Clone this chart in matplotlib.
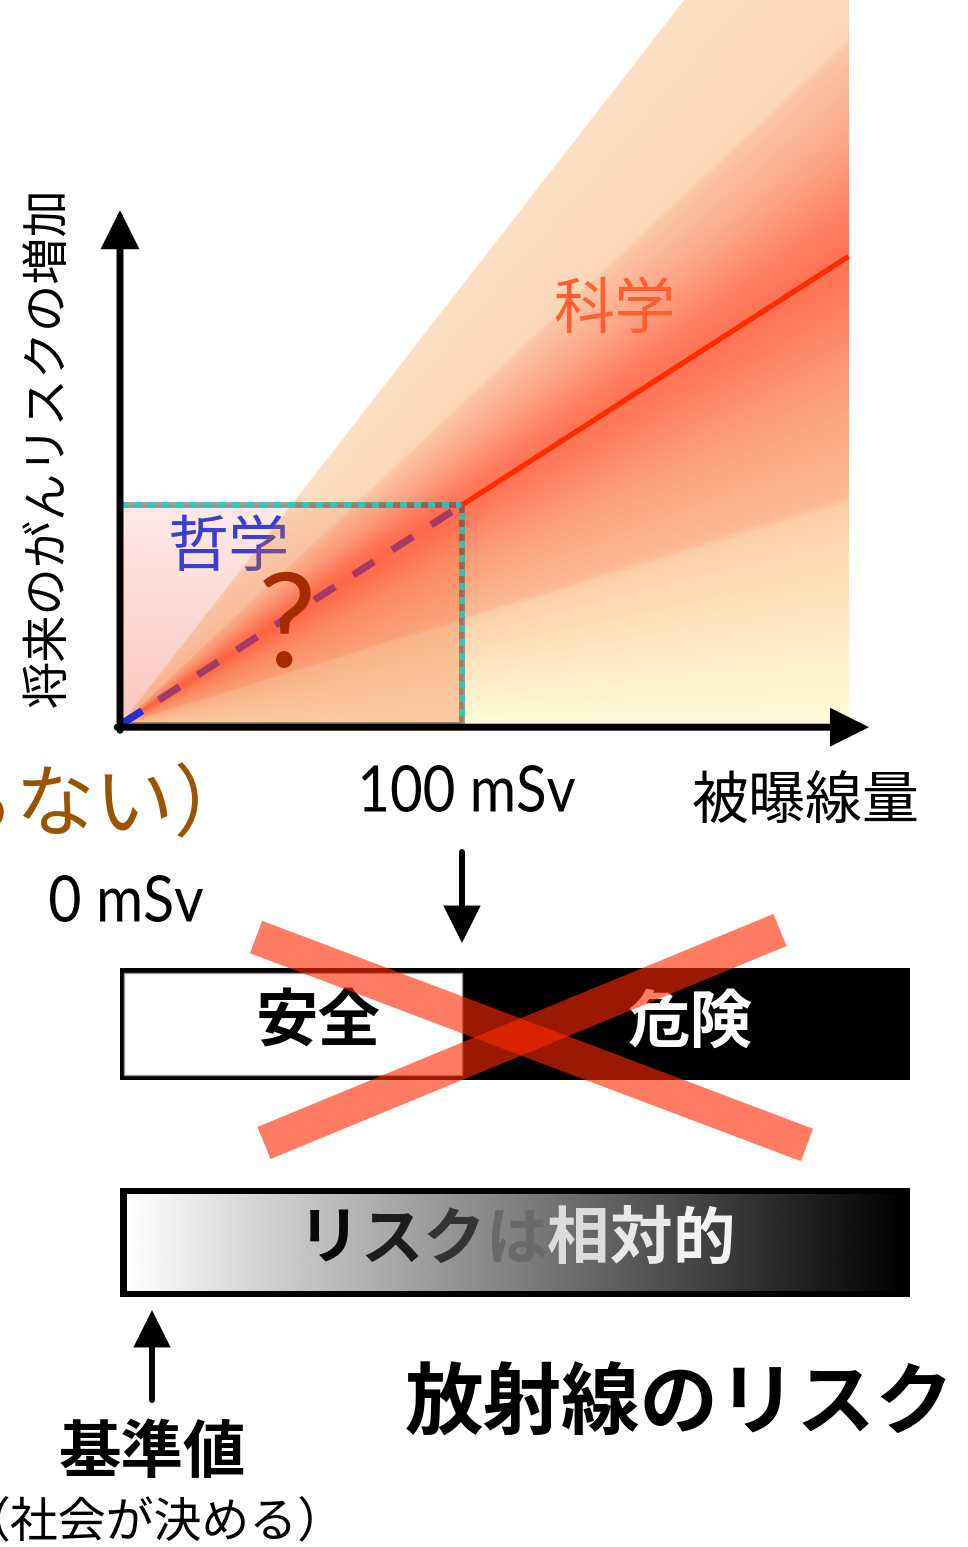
import numpy as np
import matplotlib
matplotlib.use('Agg')
import matplotlib.pyplot as plt
import matplotlib.transforms as mtransforms
from matplotlib.patches import Rectangle, PathPatch
from matplotlib.textpath import TextPath
from matplotlib.font_manager import FontProperties
from matplotlib.colors import to_rgb

plt.rcParams['font.family'] = ['Noto Sans CJK JP', 'DejaVu Sans']

# ---------------- data ----------------
dose_tick_labels = ['0 mSv', '100 mSv']
philosophy_dose = [0, 100]            # mSv, unknown region (dashed)
science_dose = [100, 213]             # mSv, established region (solid)
risk_per_msv = 0.005                  # % per mSv
band_slopes = [0.0100, 0.0073, 0.0024]  # outer upper, inner upper, lower edge of uncertainty fan
fan_end_dose = 213
axis_x_end = 219
axis_y_end = 1.17
bar_split_dose = 100
bar_end_dose = 231
x_label = '被曝線量'
y_label = '将来のがんリスクの増加'
science_label = '科学'
philosophy_label = '哲学'
safe_label, danger_label = '安全', '危険'
relative_label = 'リスクは相対的'
relative_colors = ['#080808', '#1c1c1c', '#333333', '#6a6a6a', '#dcdcdc', '#e8e8e8', '#f2f2f2']
title = '放射線のリスク'
standard_label = '基準値'
standard_sub = '（社会が決める）'
unknown_label = '（わからない）'

# ---------------- layout ----------------
W, H = 968, 1547
DPI = 100
X0_PX, PX_PER_MSV = 120, 3.42
Y0_PX, PX_PER_RISK = 725, 440

fig = plt.figure(figsize=(W / DPI, H / DPI), dpi=DPI)
ax = fig.add_axes([0, 0, 1, 1])
ov = fig.add_axes([0, 0, 1, 1])
ov.set_xlim(0, W)
ov.set_ylim(H, 0)
ov.axis('off')
ax.axis('off')
XL = (-X0_PX / PX_PER_MSV, (W - X0_PX) / PX_PER_MSV)
YL = ((Y0_PX - H) / PX_PER_RISK, Y0_PX / PX_PER_RISK)

P = ov.transData                                           # pixel layout coords
B = mtransforms.blended_transform_factory(ax.transData, ov.transData)  # x dose, y pixel


def fitted_text(s, cx, cy, w, h, family, color='k', z=8):
    tp = TextPath((0, 0), s, size=100, prop=FontProperties(family=family))
    bb = tp.get_extents()
    tr = (mtransforms.Affine2D().translate(-bb.x0 - bb.width / 2, -bb.y0 - bb.height / 2)
          .scale(w / bb.width, -h / bb.height).translate(cx, cy))
    ax.add_patch(PathPatch(tr.transform_path(tp), transform=P, facecolor=color,
                           edgecolor='none', zorder=z))


# ---------- uncertainty fan ----------
ytop = YL[1]
nx, ny = 900, 900
xs = np.linspace(0, fan_end_dose, nx)
ys = np.linspace(0, ytop, ny)
X, Y = np.meshgrid(xs, ys)
u = Y / np.maximum(X, 1e-6) / risk_per_msv
u_outer = band_slopes[0] / risk_per_msv
u_inner = band_slopes[1] / risk_per_msv
u_low = band_slopes[2] / risk_per_msv
anchors_u = [0.0, 0.22, u_low - 0.01, u_low + 0.01, 0.75, 0.92, 1.0, 1.1, 1.25, u_inner - 0.01, u_inner + 0.01, u_outer]
anchors_c = ['#FFFBD7', '#FEE9C3', '#FDD0A6', '#FDBA92', '#FD9B74', '#FF7C5C', '#FF7152',
             '#FF8262', '#FDA584', '#FCC6A4', '#FCD7B6', '#FDE0C3']
anchors_rgb = np.array([to_rgb(c) for c in anchors_c])
rgb = np.stack([np.interp(u, anchors_u, anchors_rgb[:, k]) for k in range(3)], axis=-1)
a = np.clip(1 - rgb.min(axis=-1), 1e-4, 1)
src = np.clip((rgb - (1 - a[..., None])) / a[..., None], 0, 1)
edge = np.clip(((band_slopes[0] * X - Y) * PX_PER_RISK) + 0.5, 0, 1)
rgba = np.dstack([src, a * edge])

# box overlay of unknown region
bx_n = 200
by = np.linspace(0, 1, bx_n)
box_alpha = 0.38 - 0.24 * by
box_rgba = np.zeros((bx_n, 2, 4))
box_rgba[..., :3] = to_rgb('#F46A55')
box_rgba[..., 3] = box_alpha[:, None]
y_box = risk_per_msv * philosophy_dose[1]
ax.imshow(box_rgba, extent=[0, philosophy_dose[1], 0, y_box], origin='lower', aspect='auto',
          interpolation='bilinear', zorder=1.5)

# philosophy text sits under the fan
ax.text(229, 549, philosophy_label, transform=P, fontsize=44, color='#3A3FD2',
        ha='center', va='center', zorder=1.8)

ax.imshow(rgba, extent=[0, fan_end_dose, 0, ytop], origin='lower', aspect='auto',
          interpolation='bilinear', zorder=2)

# box edges
ax.plot([0, philosophy_dose[1], philosophy_dose[1], 0, 0], [y_box, y_box, 0, 0, y_box],
        color='#3a3a3a', lw=4.2, alpha=0.5, zorder=4)
ax.plot([0, philosophy_dose[1], philosophy_dose[1]], [y_box, y_box, 0], color='#22D0C2',
        lw=4.2, dashes=(1.2, 1.2), alpha=0.85, solid_capstyle='butt', zorder=4.1)

# lines
pd = np.array(philosophy_dose, dtype=float)
ax.plot(pd, risk_per_msv * pd, color='#A63A66', lw=5.2, dashes=(3.4, 3.0),
        dash_capstyle='butt', zorder=5)
ax.plot([0, 6.5], [0, risk_per_msv * 6.5], color='#1E30D6', lw=5.2, solid_capstyle='butt', zorder=5.1)
sd = np.array(science_dose, dtype=float)
ax.plot(sd, risk_per_msv * sd, color='#FF2B00', lw=3.8, solid_capstyle='butt', zorder=5)

ax.text(287, 630, '?', transform=P, fontsize=94, color='#A52C00', family=['Lato', 'DejaVu Sans'],
        ha='center', va='center', zorder=6)
ax.text(614, 311, science_label, transform=P, fontsize=44, color='#FF5E33',
        ha='center', va='center', zorder=6)

# axes arrows
aprops = dict(arrowstyle='-|>,head_length=1.0,head_width=0.5', color='k', lw=5,
              mutation_scale=20, shrinkA=0, shrinkB=0, joinstyle='miter')
ax.annotate('', xy=(0, axis_y_end), xytext=(0, -0.012), arrowprops=aprops, zorder=7)
ax.annotate('', xy=(axis_x_end, -0.005), xytext=(-0.8, -0.005), arrowprops=aprops, zorder=7)

# axis labels
ax.text(48, 447, y_label, transform=P, fontsize=34, rotation=90, ha='center', va='center', zorder=8)
ax.text(806, 803, x_label, transform=P, fontsize=41, ha='center', va='center', zorder=8)
fitted_text(dose_tick_labels[1], 468.5, 788.5, 213, 47, ['Lato', 'DejaVu Sans'])
fitted_text(dose_tick_labels[0], 126.5, 898.5, 153, 47, ['Lato', 'DejaVu Sans'])
ax.text(253, 808, unknown_label, transform=P, fontsize=57, color='#9C5300',
        ha='right', va='center', zorder=8)

# arrow down at 100 mSv
aprops2 = dict(arrowstyle='-|>,head_length=1.0,head_width=0.5', color='k', lw=4.3,
               mutation_scale=20, shrinkA=0, shrinkB=0, joinstyle='miter')
ax.annotate('', xy=(bar_split_dose, 943), xycoords=B, xytext=(bar_split_dose, 852),
            textcoords=B, arrowprops=aprops2, zorder=8)

# safe / danger bar
ax.add_patch(Rectangle((0, 968), bar_end_dose, 112, transform=B, facecolor='k', edgecolor='none', zorder=8))
ax.add_patch(Rectangle((1.2, 973), bar_split_dose - 1.2, 102, transform=B, facecolor='white',
                       edgecolor='#9a9a9a', lw=1, zorder=8.1))
ax.text(318, 1023, safe_label, transform=P, fontsize=45, fontweight='bold', color='k',
        ha='center', va='center', zorder=9)
ax.text(690, 1023, danger_label, transform=P, fontsize=45, fontweight='bold', color='white',
        ha='center', va='center', zorder=9)

# the big cross
for (x1, y1), (x2, y2) in [((256, 937), (807, 1145)), ((264, 1143), (780, 930))]:
    ax.plot([x1, x2], [y1, y2], transform=P, color='#FF2900', alpha=0.61, lw=25,
            solid_capstyle='butt', zorder=10)

# relative risk gradient bar
ax.add_patch(Rectangle((0, 1188), bar_end_dose, 109, transform=B, facecolor='k', edgecolor='none', zorder=8))
grad = np.linspace(1.0, 0.0, 512)[None, :]
ax.imshow(grad, cmap='gray', vmin=0, vmax=1, extent=[2.0, bar_end_dose - 1.5, 1291, 1194],
          transform=B, aspect='auto', interpolation='bilinear', zorder=8.1)
em = 62.4
for i, (ch, c) in enumerate(zip(relative_label, relative_colors)):
    ax.text(516 + (i - 3) * em, 1240, ch, transform=P, fontsize=45, fontweight='bold', color=c,
            ha='center', va='center', zorder=9)

# standard arrow & labels
ax.annotate('', xy=(152, 1310), xycoords=P, xytext=(152, 1400), textcoords=P,
            arrowprops=aprops2, zorder=8)
ax.text(152, 1453, standard_label, transform=P, fontsize=45, fontweight='bold',
        ha='center', va='center', zorder=9)
ax.text(154, 1523, standard_sub, transform=P, fontsize=34.5, ha='center', va='center', zorder=9)
ax.text(680, 1406, title, transform=P, fontsize=56.5, fontweight='bold',
        ha='center', va='center', zorder=9)

ax.set_xlim(*XL)
ax.set_ylim(*YL)
fig.savefig('out.png', dpi=DPI)
